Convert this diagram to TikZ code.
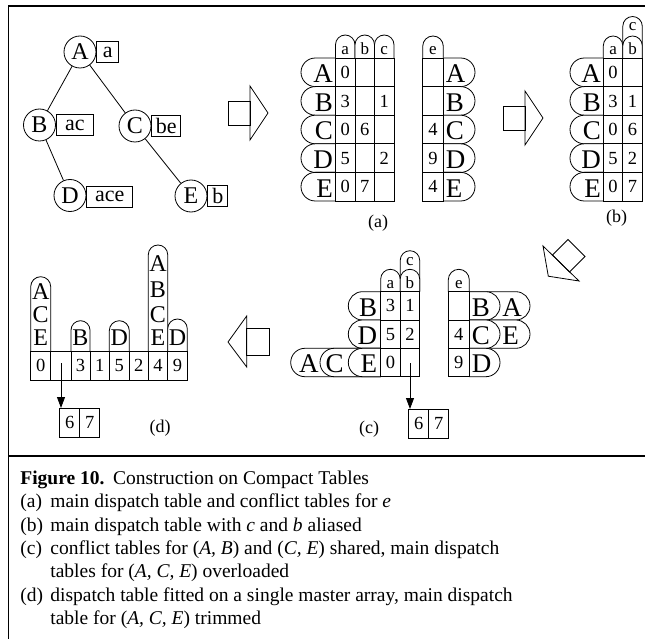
\documentclass[tikz,border=0pt]{standalone}
\usepackage{fontspec}
\setmainfont{Liberation Serif}
\usetikzlibrary{arrows.meta,shapes.geometric}
\newcounter{nn}
\tikzset{
  nm/.code={\stepcounter{nn}\pgfkeysalso{/tikz/name=t\arabic{nn}}},
  lbl/.style={nm, inner sep=0pt},
  big/.style={lbl, font=\fontsize{27}{27}\selectfont},
  dig/.style={lbl, font=\fontsize{18.5}{18.5}\selectfont},
  hdr/.style={lbl, font=\fontsize{17}{17}\selectfont},
  tall/.style={lbl, anchor=base, font=\fontsize{24}{24}\selectfont},
  captxt/.style={lbl, anchor=base west, font=\fontsize{19.5}{23}\selectfont},
  sub/.style={lbl, font=\fontsize{18}{18}\selectfont},
  tnode/.style={draw, circle, minimum size=32pt, inner sep=0pt, font=\fontsize{24}{24}\selectfont},
  tbox/.style={draw, anchor=west, inner sep=0pt, minimum height=21pt, font=\fontsize{22}{22}\selectfont},
  cellbox/.style={draw, minimum width=20pt, minimum height=29pt, inner sep=0pt, anchor=north west, font=\fontsize{18.5}{18.5}\selectfont},
  fr/.style={line width=1.3pt},
  ptr/.style={-{Triangle[length=11pt,width=8pt]}},
}
% header tab (rounded top), shape only
\newcommand\htabs[4]{\draw[fill=white] (#1,#4) -- (#1,{#3+(#2-#1)/2}) arc[start angle=180,end angle=0,radius={(#2-#1)/2*1pt}] -- (#2,#4);}
\newcommand\htab[5]{\htabs{#1}{#2}{#3}{#4}\node[hdr,anchor=base] at ({(#1+#2)/2},{#4-3}) {#5};}
% left row tab
\newcommand\ltab[6]{\draw[fill=white] (#2,#3) -- ({#1+(#4-#3)/2},#3) arc[start angle=90,end angle=270,radius={(#4-#3)/2*1pt}] -- (#2,#4);
  \node[big,anchor=base east] at (#5,{#4-3.8}) {#6};}
% right row tab
\newcommand\rtab[6]{\draw[fill=white] (#1,#3) -- ({#2-(#4-#3)/2},#3) arc[start angle=90,end angle=-90,radius={(#4-#3)/2*1pt}] -- (#1,#4);
  \node[big,anchor=base west] at (#5,{#4-3.8}) {#6};}
\newcommand\dg[3]{\node[dig,anchor=base] at (#1,{#2-8.1}) {#3};}
\begin{document}
\begin{tikzpicture}[x=1pt,y=-1pt,line width=0.8pt]
\useasboundingbox (0,0) rectangle (645,639);
% frame
\draw[fr] (8.5,639) -- (8.5,6) -- (645,6);
\draw[fr] (8.5,456) -- (645,456);

% ---------- tree ----------
\node[tnode] (A) at (80,52) {A};
\node[tnode] (B) at (39.5,125) {B};
\node[tnode] (C) at (135,126) {C};
\node[tnode] (D) at (70,195.5) {D};
\node[tnode] (E) at (191,196) {E};
\node[tbox, minimum width=22pt] (la) at (A.east) {a};
\node[tbox, minimum width=37pt] (lb) at (B.east) {ac};
\node[tbox, minimum width=29pt] (lc) at (C.east) {be};
\node[tbox, minimum width=46pt] (ld) at ([yshift=-1pt]D.east) {ace};
\node[tbox, minimum width=20pt] (le) at (E.east) {b};
\draw (A) -- (B);
\draw (A) -- (C);
\draw (B) -- (D);
\draw (C) -- (E);

% ---------- hollow arrows ----------
\draw (228,101) rectangle (250,125);
\draw (250,86) -- (268,113) -- (250,140) -- cycle;
\draw (503,106) rectangle (525,130);
\draw (525,91) -- (543,118) -- (525,145) -- cycle;
\draw (552.5,255) -- (568,239.5) -- (585,256.5) -- (569.5,272) -- cycle;
\draw (543,246) -- (579,281) -- (548.3,276.2) -- cycle;
\draw (246.7,328) rectangle (269,355);
\draw (246.7,316) -- (228,342) -- (246.7,367) -- cycle;

% ---------- table (a) main ----------
\htab{335.5}{355}{35}{58}{a}
\htab{355}{374.5}{35}{58}{b}
\htab{374.5}{394}{35}{58}{c}
\ltab{301}{335.5}{58}{86.6}{333.3}{A}
\ltab{301}{335.5}{86.6}{115.2}{333.3}{B}
\ltab{301}{335.5}{115.2}{143.8}{333.3}{C}
\ltab{301}{335.5}{143.8}{172.4}{333.3}{D}
\ltab{301}{335.5}{172.4}{201}{333.3}{E}
\foreach \ya/\yb in {58/86.6,86.6/115.2,115.2/143.8,143.8/172.4,172.4/201}
  \foreach \xa/\xb in {335.5/355,355/374.5,374.5/394}
    \draw (\xa,\ya) rectangle (\xb,\yb);
\dg{345.25}{86.6}{0}
\dg{345.25}{115.2}{3} \dg{384.25}{115.2}{1}
\dg{345.25}{143.8}{0} \dg{364.75}{143.8}{6}
\dg{345.25}{172.4}{5} \dg{384.25}{172.4}{2}
\dg{345.25}{201}{0} \dg{364.75}{201}{7}
% conflict table (a)
\htab{422.7}{443.3}{36}{58}{e}
\rtab{443.3}{475}{58}{86.6}{445.5}{A}
\rtab{443.3}{475}{86.6}{115.2}{445.5}{B}
\rtab{443.3}{475}{115.2}{143.8}{445.5}{C}
\rtab{443.3}{475}{143.8}{172.4}{445.5}{D}
\rtab{443.3}{475}{172.4}{201}{445.5}{E}
\foreach \ya/\yb in {58/86.6,86.6/115.2,115.2/143.8,143.8/172.4,172.4/201}
  \draw (422.7,\ya) rectangle (443.3,\yb);
\dg{433}{143.8}{4}
\dg{433}{172.4}{9}
\dg{433}{201}{4}
\node[sub] (capa) at (378,223) {(a)};

% ---------- table (b) ----------
\htabs{622.8}{642.3}{16.5}{58}
\node[hdr,anchor=base] at (632.55,30.5) {c};
\htab{603.3}{622.8}{36}{58}{a}
\htab{622.8}{642.3}{36}{58}{b}
\ltab{570}{603.3}{58}{86.6}{601.3}{A}
\ltab{570}{603.3}{86.6}{115.2}{601.3}{B}
\ltab{570}{603.3}{115.2}{143.8}{601.3}{C}
\ltab{570}{603.3}{143.8}{172.4}{601.3}{D}
\ltab{570}{603.3}{172.4}{201}{601.3}{E}
\foreach \ya/\yb in {58/86.6,86.6/115.2,115.2/143.8,143.8/172.4,172.4/201}
  \foreach \xa/\xb in {603.3/622.8,622.8/642.3}
    \draw (\xa,\ya) rectangle (\xb,\yb);
\dg{613.05}{86.6}{0}
\dg{613.05}{115.2}{3} \dg{632.55}{115.2}{1}
\dg{613.05}{143.8}{0} \dg{632.55}{143.8}{6}
\dg{613.05}{172.4}{5} \dg{632.55}{172.4}{2}
\dg{613.05}{201}{0} \dg{632.55}{201}{7}
\node[sub] (capb) at (616.5,218) {(b)};

% ---------- table (c) ----------
\htabs{400.2}{419.7}{250.7}{291.7}
\node[hdr,anchor=base] at (409.95,265) {c};
\htab{380.7}{400.2}{269.3}{291.7}{a}
\htab{400.2}{419.7}{269.3}{291.7}{b}
\ltab{348.3}{380.7}{291.7}{320}{377.5}{B}
\ltab{348.3}{380.7}{320}{348.3}{377.5}{D}
\ltab{290.7}{380.7}{348.3}{376.7}{319}{A}
\ltab{320}{380.7}{348.3}{376.7}{344}{C}
\ltab{348.3}{380.7}{348.3}{376.7}{377.5}{E}
\foreach \ya/\yb in {291.7/320,320/348.3,348.3/376.7}
  \foreach \xa/\xb in {380.7/400.2,400.2/419.7}
    \draw (\xa,\ya) rectangle (\xb,\yb);
\dg{390.45}{320}{3} \dg{409.95}{320}{1}
\dg{390.45}{348.3}{5} \dg{409.95}{348.3}{2}
\dg{390.45}{376.7}{0}
\node[cellbox] (c6) at (408.3,409) {6};
\node[cellbox] (c7) at (428.3,409) {7};
\coordinate (cst) at (410,363);
\draw[ptr] (cst) -- (cst |- c6.north);
\node[sub] (capc) at (369,429) {(c)};
% conflict table (c)
\htab{448.3}{469.3}{269.3}{291.7}{e}
\rtab{469.3}{530}{291.7}{320}{502}{A}
\rtab{469.3}{500}{291.7}{320}{471.5}{B}
\rtab{469.3}{530}{320}{348.3}{502}{E}
\rtab{469.3}{500}{320}{348.3}{471.5}{C}
\rtab{469.3}{500}{348.3}{376.7}{471.5}{D}
\foreach \ya/\yb in {291.7/320,320/348.3,348.3/376.7}
  \draw (448.3,\ya) rectangle (469.3,\yb);
\dg{458.8}{348.3}{4}
\dg{458.8}{376.7}{9}

% ---------- table (d) ----------
\htabs{30.7}{50.7}{276.7}{351.7}
\node[tall] at (40.7,299.5) {A};
\node[tall] at (40.7,322.5) {C};
\node[tall] at (40.7,345.5) {E};
\htabs{71}{90}{320.7}{351.7}
\node[tall] at (80.5,345) {B};
\htabs{109.3}{129.3}{320.7}{351.7}
\node[tall] at (119.3,345) {D};
\htabs{148.3}{167.7}{245}{351.7}
\node[tall] at (158,271) {A};
\node[tall] at (158,297) {B};
\node[tall] at (158,322.5) {C};
\node[tall] at (158,345.5) {E};
\htabs{167.7}{187.3}{319}{351.7}
\node[tall] at (177.5,345) {D};
\foreach \xa/\xb in {30.7/50.7,50.7/71,71/90,90/109.3,109.3/129.3,129.3/148.3,148.3/167.7,167.7/187.3}
  \draw (\xa,351.7) rectangle (\xb,380);
\dg{40.7}{380}{0}
\dg{80.5}{380}{3}
\dg{99.65}{380}{1}
\dg{119.3}{380}{5}
\dg{138.8}{380}{2}
\dg{158}{380}{4}
\dg{177.5}{380}{9}
\node[cellbox] (d6) at (59.3,408) {6};
\node[cellbox] (d7) at (79.3,408) {7};
\coordinate (dst) at (61,363);
\draw[ptr] (dst) -- (dst |- d6.north);
\node[sub] (capd) at (160,428) {(d)};

% ---------- caption ----------
\node[captxt, font=\bfseries\fontsize{19.5}{23}\selectfont] (f1) at (20,484.5) {Figure 10.};
\node[captxt] (f2) at (112.7,484.5) {Construction on Compact Tables};
\node[captxt] (ka) at (20,507.8) {(a)};
\node[captxt] (ta) at (50,507.8) {main dispatch table and conflict tables for \textit{e}};
\node[captxt] (kb) at (20,531.1) {(b)};
\node[captxt] (tb) at (50,531.1) {main dispatch table with \textit{c} and \textit{b} aliased};
\node[captxt] (kc) at (20,554.4) {(c)};
\node[captxt] (tc) at (50,554.4) {conflict tables for (\textit{A, B}) and (\textit{C, E}) shared, main dispatch};
\node[captxt] (tc2) at (50,577.7) {tables for (\textit{A, C, E}) overloaded};
\node[captxt] (kd) at (20,601) {(d)};
\node[captxt] (td) at (50,601) {dispatch table fitted on a single master array, main dispatch};
\node[captxt] (td2) at (50,624.3) {table for (\textit{A, C, E}) trimmed};
\end{tikzpicture}
\end{document}
